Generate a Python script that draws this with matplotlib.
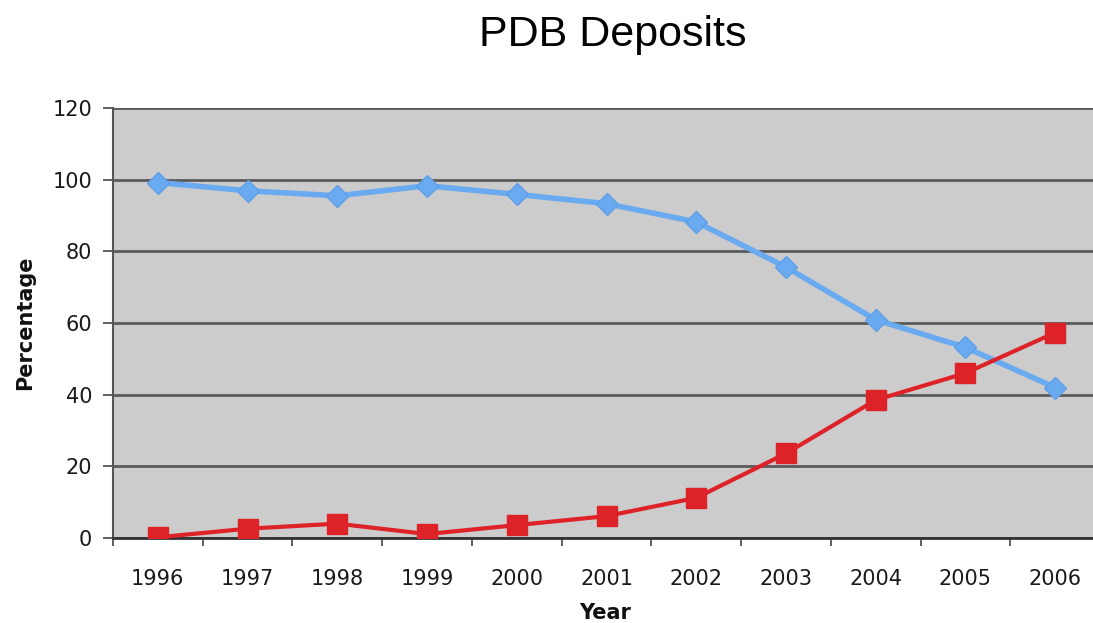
import numpy as np
import matplotlib.pyplot as plt

# yearly share of deposits (percent)
years = ['1996', '1997', '1998', '1999', '2000', '2001', '2002', '2003', '2004', '2005', '2006']
blue_vals = [99.2, 96.9, 95.5, 98.3, 95.9, 93.3, 88.2, 75.6, 60.9, 53.2, 42.0]
red_vals = [0.2, 2.6, 4.0, 1.1, 3.6, 6.1, 11.2, 23.6, 38.5, 46.0, 57.3]
y_ticks = [0, 20, 40, 60, 80, 100, 120]

fig = plt.figure(figsize=(10.93, 6.23), dpi=100)
W, H = 1093, 623
# plot area in pixels: left 113, right 1100 (runs off the edge), top 108, bottom 538
ax = fig.add_axes([113 / W, 1 - 538 / H, (1100 - 113) / W, (538 - 108) / H])
ax.set_facecolor('#cccccc')

x = np.arange(len(years))
ax.plot(x, blue_vals, color='#6aaaf0', lw=4, marker='D', ms=11,
        mec='#5f9fe6', mfc='#6aaaf0', zorder=3)
ax.plot(x, red_vals, color='#dd2228', lw=3, marker='s', ms=14,
        mec='#dd2228', mfc='#dd2228', zorder=4)

ax.set_xlim(-0.5, len(years) - 0.5)
ax.set_ylim(0, 120)
ax.set_yticks(y_ticks)
ax.yaxis.grid(True, color='#5a5a5a', lw=2)
ax.set_axisbelow(True)

# category labels centred, tick marks between categories
ax.set_xticks(x)
ax.set_xticklabels(years)
ax.set_xticks(np.arange(len(years) + 1) - 0.5, minor=True)
ax.tick_params(axis='x', which='major', length=0, pad=22, labelsize=15, labelcolor='#1a1a1a')
ax.tick_params(axis='x', which='minor', length=6, width=1.2, color='#444444', direction='out')
ax.tick_params(axis='y', length=7, width=1.2, color='#444444', pad=8, labelsize=15, labelcolor='#1a1a1a')

for s in ['top', 'right']:
    ax.spines[s].set_visible(False)
ax.spines['left'].set_color('#555555')
ax.spines['left'].set_linewidth(1.5)
ax.spines['bottom'].set_color('#333333')
ax.spines['bottom'].set_linewidth(2)

fig.text(613 / W, 1 - 35 / H, 'PDB Deposits', ha='center', va='center',
         fontsize=31, family='Liberation Sans', color='black')
fig.text(605 / W, 1 - 613 / H, 'Year', ha='center', va='center',
         fontsize=15, fontweight='bold', color='#111111')
fig.text(25 / W, 1 - 323 / H, 'Percentage', ha='center', va='center', rotation=90,
         fontsize=15, fontweight='bold', color='#111111')

fig.savefig('out.png', dpi=100)
